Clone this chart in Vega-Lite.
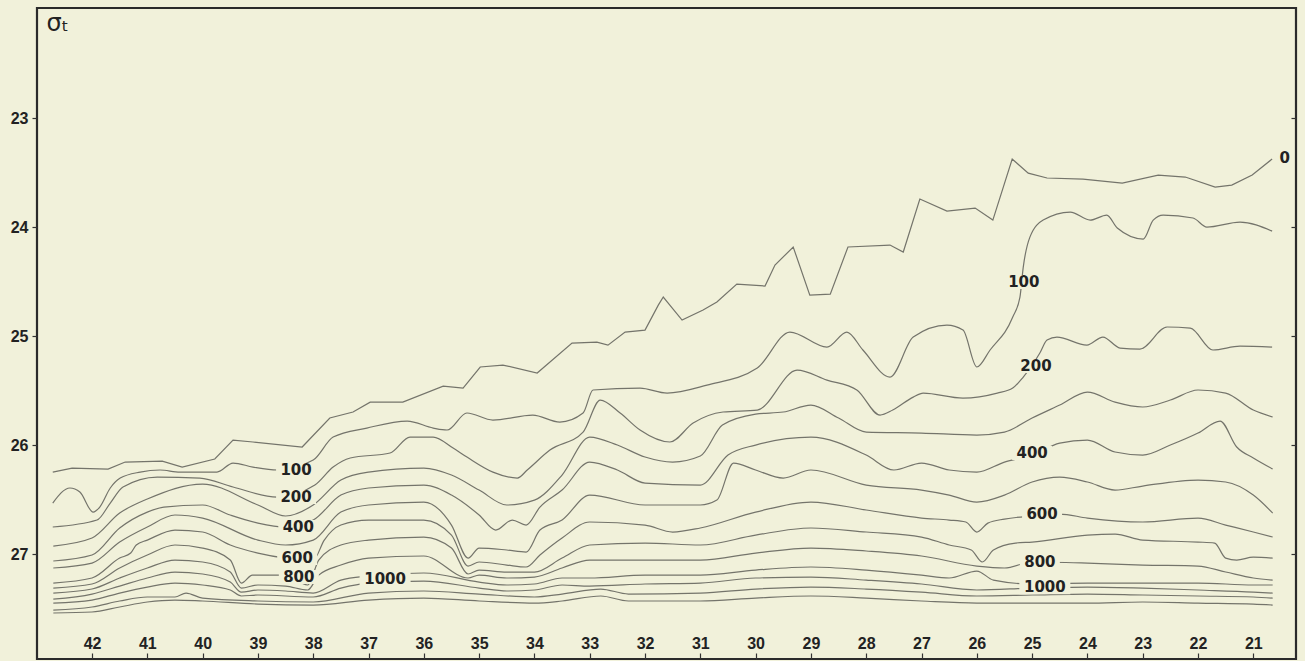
{
"$schema":"https://vega.github.io/schema/vega-lite/v6.json",
"width":1259,"height":651,"autosize":"none",
"padding":{"left":37,"top":8,"right":9,"bottom":2},
"background":"#f1f1da",
"config":{"view":{"stroke":"#2b2b2b","strokeWidth":2.2,"fill":"#f1f1da"},"axis":{"grid":false,"domain":false}},
"datasets":{
"lines":[
{"d":0,"s":42.71,"v":26.248},{"d":0,"s":42.36,"v":26.211},{"d":0,"s":41.71,"v":26.220},{"d":0,"s":41.40,"v":26.156},{"d":0,"s":40.73,"v":26.147},{"d":0,"s":40.37,"v":26.202},{"d":0,"s":39.78,"v":26.128},{"d":0,"s":39.45,"v":25.954},{"d":0,"s":39.09,"v":25.972},{"d":0,"s":38.20,"v":26.018},{"d":0,"s":37.70,"v":25.752},{"d":0,"s":37.28,"v":25.697},{"d":0,"s":36.97,"v":25.606},{"d":0,"s":36.38,"v":25.606},{"d":0,"s":35.65,"v":25.459},{"d":0,"s":35.29,"v":25.477},{"d":0,"s":34.98,"v":25.284},{"d":0,"s":34.57,"v":25.266},{"d":0,"s":33.95,"v":25.339},{"d":0,"s":33.32,"v":25.064},{"d":0,"s":32.87,"v":25.055},{"d":0,"s":32.67,"v":25.083},{"d":0,"s":32.36,"v":24.963},{"d":0,"s":32.00,"v":24.945},{"d":0,"s":31.76,"v":24.716},{"d":0,"s":31.67,"v":24.642},{"d":0,"s":31.33,"v":24.853},{"d":0,"s":30.95,"v":24.761},{"d":0,"s":30.70,"v":24.688},{"d":0,"s":30.34,"v":24.523},{"d":0,"s":29.83,"v":24.541},{"d":0,"s":29.65,"v":24.349},{"d":0,"s":29.32,"v":24.183},{"d":0,"s":29.02,"v":24.624},{"d":0,"s":28.65,"v":24.615},{"d":0,"s":28.33,"v":24.183},{"d":0,"s":27.57,"v":24.165},{"d":0,"s":27.33,"v":24.229},{"d":0,"s":27.03,"v":23.743},{"d":0,"s":26.54,"v":23.853},{"d":0,"s":26.03,"v":23.826},{"d":0,"s":25.71,"v":23.936},{"d":0,"s":25.36,"v":23.376},{"d":0,"s":25.07,"v":23.505},{"d":0,"s":24.73,"v":23.550},{"d":0,"s":24.08,"v":23.560},{"d":0,"s":23.37,"v":23.596},{"d":0,"s":22.72,"v":23.523},{"d":0,"s":22.23,"v":23.541},{"d":0,"s":21.69,"v":23.633},{"d":0,"s":21.39,"v":23.615},{"d":0,"s":21.02,"v":23.523},{"d":0,"s":20.66,"v":23.376},

{"d":100,"s":42.71,"v":26.532},{"d":100,"s":42.40,"v":26.394},{"d":100,"s":42.22,"v":26.431},{"d":100,"s":41.98,"v":26.615},{"d":100,"s":41.86,"v":26.569},{"d":100,"s":41.67,"v":26.394},{"d":100,"s":41.49,"v":26.303},{"d":100,"s":41.13,"v":26.248},{"d":100,"s":40.77,"v":26.229},{"d":100,"s":40.41,"v":26.248},{"d":100,"s":39.74,"v":26.248},{"d":100,"s":39.45,"v":26.165},{"d":100,"s":39.09,"v":26.202},{"d":100,"s":38.65,"v":26.229},{"d":100,"s":38.00,"v":26.138},{"d":100,"s":37.64,"v":25.927},{"d":100,"s":37.03,"v":25.844},{"d":100,"s":36.30,"v":25.780},{"d":100,"s":35.83,"v":25.844},{"d":100,"s":35.58,"v":25.862},{"d":100,"s":35.22,"v":25.706},{"d":100,"s":34.75,"v":25.771},{"d":100,"s":34.03,"v":25.725},{"d":100,"s":33.54,"v":25.789},{"d":100,"s":33.12,"v":25.706},{"d":100,"s":32.94,"v":25.495},{"d":100,"s":32.09,"v":25.477},{"d":100,"s":31.60,"v":25.523},{"d":100,"s":30.88,"v":25.450},{"d":100,"s":29.97,"v":25.294},{"d":100,"s":29.38,"v":24.963},{"d":100,"s":28.71,"v":25.101},{"d":100,"s":28.35,"v":24.963},{"d":100,"s":28.06,"v":25.128},{"d":100,"s":27.57,"v":25.376},{"d":100,"s":27.15,"v":25.009},{"d":100,"s":26.54,"v":24.899},{"d":100,"s":26.25,"v":24.945},{"d":100,"s":26.00,"v":25.284},{"d":100,"s":25.76,"v":25.128},{"d":100,"s":25.35,"v":24.826},{"d":100,"s":25.22,"v":24.642},{"d":100,"s":25.16,"v":24.367},{"d":100,"s":25.04,"v":24.092},{"d":100,"s":24.80,"v":23.936},{"d":100,"s":24.31,"v":23.862},{"d":100,"s":23.95,"v":23.936},{"d":100,"s":23.65,"v":23.890},{"d":100,"s":23.46,"v":24.009},{"d":100,"s":22.99,"v":24.110},{"d":100,"s":22.81,"v":23.936},{"d":100,"s":22.63,"v":23.890},{"d":100,"s":22.09,"v":23.917},{"d":100,"s":21.84,"v":24.000},{"d":100,"s":21.24,"v":23.954},{"d":100,"s":20.66,"v":24.037},

{"d":200,"s":42.71,"v":26.752},{"d":200,"s":41.91,"v":26.688},{"d":200,"s":41.67,"v":26.532},{"d":200,"s":41.44,"v":26.385},{"d":200,"s":40.82,"v":26.294},{"d":200,"s":40.05,"v":26.303},{"d":200,"s":39.45,"v":26.385},{"d":200,"s":38.65,"v":26.477},{"d":200,"s":37.97,"v":26.367},{"d":200,"s":37.64,"v":26.202},{"d":200,"s":37.33,"v":26.119},{"d":200,"s":36.61,"v":26.073},{"d":200,"s":36.25,"v":25.927},{"d":200,"s":35.83,"v":25.927},{"d":200,"s":35.47,"v":26.028},{"d":200,"s":35.22,"v":26.110},{"d":200,"s":34.75,"v":26.248},{"d":200,"s":34.31,"v":26.303},{"d":200,"s":34.13,"v":26.229},{"d":200,"s":33.72,"v":26.046},{"d":200,"s":33.12,"v":25.881},{"d":200,"s":32.81,"v":25.587},{"d":200,"s":32.45,"v":25.706},{"d":200,"s":32.09,"v":25.862},{"d":200,"s":31.55,"v":25.972},{"d":200,"s":31.13,"v":25.798},{"d":200,"s":30.59,"v":25.697},{"d":200,"s":29.97,"v":25.679},{"d":200,"s":29.25,"v":25.312},{"d":200,"s":28.71,"v":25.404},{"d":200,"s":28.17,"v":25.495},{"d":200,"s":27.75,"v":25.725},{"d":200,"s":27.52,"v":25.679},{"d":200,"s":27.15,"v":25.560},{"d":200,"s":26.97,"v":25.523},{"d":200,"s":26.25,"v":25.569},{"d":200,"s":25.63,"v":25.523},{"d":200,"s":25.35,"v":25.477},{"d":200,"s":25.16,"v":25.376},{"d":200,"s":24.86,"v":25.156},{"d":200,"s":24.73,"v":25.037},{"d":200,"s":24.55,"v":25.009},{"d":200,"s":24.01,"v":25.083},{"d":200,"s":23.72,"v":25.009},{"d":200,"s":23.41,"v":25.110},{"d":200,"s":23.05,"v":25.119},{"d":200,"s":22.56,"v":24.917},{"d":200,"s":22.14,"v":24.927},{"d":200,"s":21.73,"v":25.128},{"d":200,"s":21.24,"v":25.092},{"d":200,"s":20.66,"v":25.101},

{"d":300,"s":42.7,"v":26.927},{"d":300,"s":42,"v":26.853},{"d":300,"s":41.5,"v":26.624},{"d":300,"s":41,"v":26.495},{"d":300,"s":40,"v":26.358},{"d":300,"s":39,"v":26.550},{"d":300,"s":38.5,"v":26.651},{"d":300,"s":38,"v":26.550},{"d":300,"s":37.5,"v":26.321},{"d":300,"s":37,"v":26.248},{"d":300,"s":36,"v":26.211},{"d":300,"s":35.5,"v":26.275},{"d":300,"s":35,"v":26.413},{"d":300,"s":34.5,"v":26.550},{"d":300,"s":34,"v":26.505},{"d":300,"s":33.5,"v":26.275},{"d":300,"s":33,"v":25.927},{"d":300,"s":32.5,"v":26.000},{"d":300,"s":32,"v":26.110},{"d":300,"s":31.5,"v":26.156},{"d":300,"s":31,"v":26.101},{"d":300,"s":30.6,"v":25.817},{"d":300,"s":30,"v":25.716},{"d":300,"s":29.5,"v":25.697},{"d":300,"s":29,"v":25.633},{"d":300,"s":28.5,"v":25.752},{"d":300,"s":28,"v":25.881},{"d":300,"s":27,"v":25.890},{"d":300,"s":26,"v":25.908},{"d":300,"s":25.5,"v":25.881},{"d":300,"s":25,"v":25.752},{"d":300,"s":24.5,"v":25.633},{"d":300,"s":24,"v":25.514},{"d":300,"s":23.5,"v":25.606},{"d":300,"s":23,"v":25.651},{"d":300,"s":22.5,"v":25.587},{"d":300,"s":22,"v":25.495},{"d":300,"s":21.5,"v":25.523},{"d":300,"s":21,"v":25.679},{"d":300,"s":20.65,"v":25.743},

{"d":400,"s":42.7,"v":27.064},{"d":400,"s":42,"v":27.009},{"d":400,"s":41.5,"v":26.761},{"d":400,"s":41,"v":26.615},{"d":400,"s":40.7,"v":26.569},{"d":400,"s":40,"v":26.550},{"d":400,"s":39.5,"v":26.642},{"d":400,"s":39,"v":26.716},{"d":400,"s":38.5,"v":26.752},{"d":400,"s":38,"v":26.688},{"d":400,"s":37.5,"v":26.459},{"d":400,"s":37,"v":26.394},{"d":400,"s":36,"v":26.367},{"d":400,"s":35.5,"v":26.459},{"d":400,"s":35,"v":26.642},{"d":400,"s":34.7,"v":26.780},{"d":400,"s":34.4,"v":26.688},{"d":400,"s":34.15,"v":26.734},{"d":400,"s":33.9,"v":26.569},{"d":400,"s":33.5,"v":26.413},{"d":400,"s":33,"v":26.156},{"d":400,"s":32.5,"v":26.229},{"d":400,"s":32,"v":26.349},{"d":400,"s":31,"v":26.367},{"d":400,"s":30.5,"v":26.092},{"d":400,"s":30,"v":26.000},{"d":400,"s":29,"v":25.927},{"d":400,"s":28,"v":26.092},{"d":400,"s":27.5,"v":26.229},{"d":400,"s":27,"v":26.165},{"d":400,"s":26.5,"v":26.229},{"d":400,"s":26,"v":26.248},{"d":400,"s":25.5,"v":26.156},{"d":400,"s":25,"v":26.092},{"d":400,"s":24.5,"v":25.982},{"d":400,"s":24,"v":25.954},{"d":400,"s":23.5,"v":26.064},{"d":400,"s":23,"v":26.092},{"d":400,"s":22.5,"v":26.000},{"d":400,"s":22,"v":25.890},{"d":400,"s":21.6,"v":25.780},{"d":400,"s":21.3,"v":26.018},{"d":400,"s":21,"v":26.119},{"d":400,"s":20.65,"v":26.220},

{"d":500,"s":42.7,"v":27.128},{"d":500,"s":42,"v":27.083},{"d":500,"s":41.5,"v":26.890},{"d":500,"s":41,"v":26.752},{"d":500,"s":40.5,"v":26.642},{"d":500,"s":40,"v":26.670},{"d":500,"s":39,"v":26.872},{"d":500,"s":38.5,"v":26.917},{"d":500,"s":38,"v":26.872},{"d":500,"s":37.5,"v":26.615},{"d":500,"s":37,"v":26.550},{"d":500,"s":36,"v":26.523},{"d":500,"s":35.5,"v":26.734},{"d":500,"s":35.2,"v":27.037},{"d":500,"s":35,"v":26.945},{"d":500,"s":34.5,"v":26.963},{"d":500,"s":34.15,"v":26.982},{"d":500,"s":33.9,"v":26.780},{"d":500,"s":33.5,"v":26.688},{"d":500,"s":33,"v":26.459},{"d":500,"s":32,"v":26.550},{"d":500,"s":31,"v":26.550},{"d":500,"s":30.7,"v":26.505},{"d":500,"s":30.4,"v":26.165},{"d":500,"s":30,"v":26.229},{"d":500,"s":29.5,"v":26.303},{"d":500,"s":29,"v":26.229},{"d":500,"s":28,"v":26.367},{"d":500,"s":27,"v":26.413},{"d":500,"s":26.5,"v":26.459},{"d":500,"s":26,"v":26.523},{"d":500,"s":25.5,"v":26.459},{"d":500,"s":25,"v":26.339},{"d":500,"s":24.5,"v":26.294},{"d":500,"s":24,"v":26.339},{"d":500,"s":23.5,"v":26.413},{"d":500,"s":23,"v":26.376},{"d":500,"s":22,"v":26.321},{"d":500,"s":21.5,"v":26.339},{"d":500,"s":21,"v":26.459},{"d":500,"s":20.65,"v":26.624},

{"d":600,"s":42.7,"v":27.266},{"d":600,"s":42,"v":27.220},{"d":600,"s":41.5,"v":27.037},{"d":600,"s":41.3,"v":26.991},{"d":600,"s":41.2,"v":26.917},{"d":600,"s":41,"v":26.872},{"d":600,"s":40.5,"v":26.780},{"d":600,"s":40,"v":26.798},{"d":600,"s":39.5,"v":26.917},{"d":600,"s":39,"v":26.991},{"d":600,"s":38.5,"v":27.037},{"d":600,"s":38,"v":27.055},{"d":600,"s":37.8,"v":26.872},{"d":600,"s":37.5,"v":26.734},{"d":600,"s":37,"v":26.688},{"d":600,"s":36,"v":26.688},{"d":600,"s":35.5,"v":26.826},{"d":600,"s":35.2,"v":27.110},{"d":600,"s":35,"v":27.073},{"d":600,"s":34.5,"v":27.101},{"d":600,"s":34.15,"v":27.119},{"d":600,"s":33.9,"v":27.009},{"d":600,"s":33.5,"v":26.853},{"d":600,"s":33,"v":26.706},{"d":600,"s":32,"v":26.734},{"d":600,"s":31.5,"v":26.798},{"d":600,"s":31,"v":26.761},{"d":600,"s":30,"v":26.615},{"d":600,"s":29,"v":26.523},{"d":600,"s":28,"v":26.596},{"d":600,"s":27,"v":26.670},{"d":600,"s":26.5,"v":26.688},{"d":600,"s":26.2,"v":26.706},{"d":600,"s":26,"v":26.798},{"d":600,"s":25.8,"v":26.716},{"d":600,"s":25.5,"v":26.679},{"d":600,"s":25,"v":26.651},{"d":600,"s":24.5,"v":26.633},{"d":600,"s":24,"v":26.670},{"d":600,"s":23,"v":26.706},{"d":600,"s":22,"v":26.670},{"d":600,"s":21.5,"v":26.734},{"d":600,"s":21,"v":26.798},{"d":600,"s":20.65,"v":26.844},

{"d":700,"s":42.7,"v":27.312},{"d":700,"s":42,"v":27.275},{"d":700,"s":41.5,"v":27.128},{"d":700,"s":41,"v":27.009},{"d":700,"s":40.5,"v":26.917},{"d":700,"s":40,"v":26.945},{"d":700,"s":39.5,"v":27.055},{"d":700,"s":39.3,"v":27.266},{"d":700,"s":39.1,"v":27.193},{"d":700,"s":38.5,"v":27.193},{"d":700,"s":38.1,"v":27.284},{"d":700,"s":37.9,"v":27.055},{"d":700,"s":37.5,"v":26.917},{"d":700,"s":37,"v":26.872},{"d":700,"s":36,"v":26.844},{"d":700,"s":35.5,"v":26.945},{"d":700,"s":35.2,"v":27.183},{"d":700,"s":35,"v":27.147},{"d":700,"s":34.5,"v":27.165},{"d":700,"s":34,"v":27.165},{"d":700,"s":33.5,"v":27.037},{"d":700,"s":33,"v":26.917},{"d":700,"s":32,"v":26.899},{"d":700,"s":31,"v":26.917},{"d":700,"s":30,"v":26.826},{"d":700,"s":29,"v":26.761},{"d":700,"s":28,"v":26.798},{"d":700,"s":27,"v":26.844},{"d":700,"s":26.5,"v":26.917},{"d":700,"s":26.1,"v":26.963},{"d":700,"s":25.9,"v":27.073},{"d":700,"s":25.7,"v":26.963},{"d":700,"s":25.3,"v":26.899},{"d":700,"s":25,"v":26.890},{"d":700,"s":24,"v":26.826},{"d":700,"s":23.5,"v":26.817},{"d":700,"s":23,"v":26.872},{"d":700,"s":22,"v":26.890},{"d":700,"s":21.7,"v":26.899},{"d":700,"s":21.5,"v":27.037},{"d":700,"s":21.3,"v":27.055},{"d":700,"s":21,"v":27.028},{"d":700,"s":20.65,"v":27.037},

{"d":800,"s":42.7,"v":27.358},{"d":800,"s":42,"v":27.321},{"d":800,"s":41.5,"v":27.220},{"d":800,"s":41,"v":27.128},{"d":800,"s":40.5,"v":27.055},{"d":800,"s":40,"v":27.073},{"d":800,"s":39.5,"v":27.165},{"d":800,"s":39.3,"v":27.312},{"d":800,"s":39,"v":27.284},{"d":800,"s":38.5,"v":27.294},{"d":800,"s":38.1,"v":27.330},{"d":800,"s":37.9,"v":27.193},{"d":800,"s":37.5,"v":27.101},{"d":800,"s":37,"v":27.037},{"d":800,"s":36,"v":27.018},{"d":800,"s":35.2,"v":27.220},{"d":800,"s":35,"v":27.193},{"d":800,"s":34.5,"v":27.220},{"d":800,"s":34,"v":27.211},{"d":800,"s":33.5,"v":27.128},{"d":800,"s":33,"v":27.055},{"d":800,"s":32,"v":27.055},{"d":800,"s":31,"v":27.055},{"d":800,"s":30,"v":26.991},{"d":800,"s":29,"v":26.945},{"d":800,"s":28,"v":26.972},{"d":800,"s":27,"v":27.018},{"d":800,"s":26,"v":27.110},{"d":800,"s":25.5,"v":27.128},{"d":800,"s":25,"v":27.073},{"d":800,"s":24,"v":27.083},{"d":800,"s":23,"v":27.101},{"d":800,"s":22,"v":27.110},{"d":800,"s":21.5,"v":27.165},{"d":800,"s":21,"v":27.220},{"d":800,"s":20.65,"v":27.239},

{"d":900,"s":42.7,"v":27.413},{"d":900,"s":42,"v":27.367},{"d":900,"s":41.5,"v":27.294},{"d":900,"s":41,"v":27.220},{"d":900,"s":40.5,"v":27.165},{"d":900,"s":40,"v":27.183},{"d":900,"s":39.5,"v":27.257},{"d":900,"s":39.3,"v":27.349},{"d":900,"s":39,"v":27.330},{"d":900,"s":38.5,"v":27.339},{"d":900,"s":38,"v":27.358},{"d":900,"s":37.5,"v":27.239},{"d":900,"s":37,"v":27.202},{"d":900,"s":36,"v":27.174},{"d":900,"s":35,"v":27.257},{"d":900,"s":34.5,"v":27.284},{"d":900,"s":34,"v":27.275},{"d":900,"s":33.5,"v":27.220},{"d":900,"s":33,"v":27.220},{"d":900,"s":32,"v":27.193},{"d":900,"s":31,"v":27.193},{"d":900,"s":30,"v":27.147},{"d":900,"s":29,"v":27.119},{"d":900,"s":28,"v":27.147},{"d":900,"s":27,"v":27.193},{"d":900,"s":26.5,"v":27.220},{"d":900,"s":26,"v":27.156},{"d":900,"s":25.7,"v":27.239},{"d":900,"s":25,"v":27.275},{"d":900,"s":24,"v":27.266},{"d":900,"s":23,"v":27.266},{"d":900,"s":22,"v":27.266},{"d":900,"s":21,"v":27.284},{"d":900,"s":20.65,"v":27.284},

{"d":1000,"s":42.7,"v":27.450},{"d":1000,"s":42,"v":27.422},{"d":1000,"s":41.5,"v":27.358},{"d":1000,"s":41,"v":27.303},{"d":1000,"s":40.5,"v":27.266},{"d":1000,"s":40,"v":27.284},{"d":1000,"s":39.5,"v":27.330},{"d":1000,"s":39.3,"v":27.385},{"d":1000,"s":39,"v":27.376},{"d":1000,"s":38,"v":27.394},{"d":1000,"s":37.5,"v":27.312},{"d":1000,"s":37,"v":27.266},{"d":1000,"s":36,"v":27.248},{"d":1000,"s":35,"v":27.312},{"d":1000,"s":34.5,"v":27.339},{"d":1000,"s":34,"v":27.330},{"d":1000,"s":33.5,"v":27.284},{"d":1000,"s":33,"v":27.294},{"d":1000,"s":32,"v":27.275},{"d":1000,"s":31,"v":27.266},{"d":1000,"s":30,"v":27.220},{"d":1000,"s":29,"v":27.211},{"d":1000,"s":28,"v":27.239},{"d":1000,"s":27,"v":27.275},{"d":1000,"s":26,"v":27.330},{"d":1000,"s":25,"v":27.312},{"d":1000,"s":24,"v":27.303},{"d":1000,"s":23,"v":27.312},{"d":1000,"s":22,"v":27.330},{"d":1000,"s":21,"v":27.349},{"d":1000,"s":20.65,"v":27.358},

{"d":1200,"s":42.7,"v":27.514},{"d":1200,"s":42,"v":27.486},{"d":1200,"s":41.5,"v":27.431},{"d":1200,"s":41,"v":27.394},{"d":1200,"s":40.5,"v":27.394},{"d":1200,"s":40.3,"v":27.358},{"d":1200,"s":40,"v":27.404},{"d":1200,"s":39,"v":27.431},{"d":1200,"s":38,"v":27.440},{"d":1200,"s":37,"v":27.358},{"d":1200,"s":36,"v":27.339},{"d":1200,"s":35,"v":27.367},{"d":1200,"s":34,"v":27.394},{"d":1200,"s":33.5,"v":27.367},{"d":1200,"s":32.8,"v":27.321},{"d":1200,"s":32.3,"v":27.367},{"d":1200,"s":31,"v":27.358},{"d":1200,"s":30,"v":27.321},{"d":1200,"s":29,"v":27.303},{"d":1200,"s":28,"v":27.321},{"d":1200,"s":27,"v":27.349},{"d":1200,"s":26,"v":27.385},{"d":1200,"s":25,"v":27.376},{"d":1200,"s":24,"v":27.367},{"d":1200,"s":23,"v":27.376},{"d":1200,"s":22,"v":27.385},{"d":1200,"s":21,"v":27.394},{"d":1200,"s":20.65,"v":27.404},

{"d":1500,"s":42.7,"v":27.541},{"d":1500,"s":42,"v":27.532},{"d":1500,"s":41.5,"v":27.486},{"d":1500,"s":41,"v":27.440},{"d":1500,"s":40.5,"v":27.422},{"d":1500,"s":40,"v":27.431},{"d":1500,"s":39,"v":27.459},{"d":1500,"s":38,"v":27.468},{"d":1500,"s":37,"v":27.422},{"d":1500,"s":36,"v":27.404},{"d":1500,"s":35,"v":27.431},{"d":1500,"s":34,"v":27.450},{"d":1500,"s":33.5,"v":27.431},{"d":1500,"s":32.8,"v":27.385},{"d":1500,"s":32.3,"v":27.431},{"d":1500,"s":31,"v":27.431},{"d":1500,"s":30,"v":27.404},{"d":1500,"s":29,"v":27.385},{"d":1500,"s":28,"v":27.404},{"d":1500,"s":27,"v":27.431},{"d":1500,"s":26,"v":27.450},{"d":1500,"s":25,"v":27.450},{"d":1500,"s":24,"v":27.450},{"d":1500,"s":23,"v":27.440},{"d":1500,"s":22,"v":27.450},{"d":1500,"s":21,"v":27.459},{"d":1500,"s":20.65,"v":27.468}
],
"labels":[
{"t":"0","s":20.43,"v":23.367},
{"t":"100","s":38.31,"v":26.229},{"t":"100","s":25.15,"v":24.505},
{"t":"200","s":38.31,"v":26.477},{"t":"200","s":24.93,"v":25.275},
{"t":"400","s":38.27,"v":26.752},{"t":"400","s":25.00,"v":26.073},
{"t":"600","s":38.29,"v":27.037},{"t":"600","s":24.82,"v":26.633},
{"t":"800","s":38.26,"v":27.211},{"t":"800","s":24.86,"v":27.073},
{"t":"1000","s":36.70,"v":27.229},{"t":"1000","s":24.77,"v":27.303}
]
},
"resolve":{"axis":{"y":"independent"}},
"layer":[
{"data":{"name":"lines"},"transform":[{"filter":"datum.d == 0"}],
 "mark":{"type":"line","interpolate":"linear","color":"#74746b","strokeWidth":1.2},
 "encoding":{
  "x":{"field":"s","type":"quantitative","scale":{"domain":[20.228,42.995],"reverse":true,"nice":false,"zero":false},
       "axis":{"values":[21,22,23,24,25,26,27,28,29,30,31,32,33,34,35,36,37,38,39,40,41,42],"tickSize":-6,"labelPadding":-18,"labelFont":"Liberation Sans","labelFontSize":16,"labelFontWeight":"bold","labelColor":"#222","tickColor":"#333","tickWidth":1.2,"title":null,"labelFlush":false,"labelOverlap":false}},
  "y":{"field":"v","type":"quantitative","scale":{"domain":[21.99,27.963],"reverse":true,"nice":false,"zero":false},
       "axis":{"values":[23,24,25,26,27],"tickSize":5,"labelPadding":4,"labelFont":"Liberation Sans","labelFontSize":16,"labelFontWeight":"bold","labelColor":"#222","tickColor":"#333","tickWidth":1.2,"title":"σₜ","titleAngle":0,"titleX":9,"titleY":22,"titleAlign":"left","titleBaseline":"alphabetic","titleFont":"DejaVu Sans","titleFontSize":24,"titleFontWeight":"normal","titleColor":"#222"}},
  "order":{"field":"s","sort":"descending"}}},
{"data":{"name":"lines"},"transform":[{"filter":"datum.d > 0"}],
 "mark":{"type":"line","interpolate":"monotone","color":"#74746b","strokeWidth":1.2},
 "encoding":{
  "x":{"field":"s","type":"quantitative","scale":{"domain":[20.228,42.995],"reverse":true,"nice":false,"zero":false}},
  "y":{"field":"v","type":"quantitative","scale":{"domain":[21.99,27.963],"reverse":true,"nice":false,"zero":false},"axis":null},
  "detail":{"field":"d","type":"nominal"},
  "order":{"field":"s","sort":"descending"}}},
{"data":{"name":"labels"},"transform":[{"filter":"length(datum.t) == 3"}],
 "mark":{"type":"point","shape":"M-1,-0.35H1V0.35H-1Z","filled":true,"color":"#f1f1da","opacity":1,"size":1600,"strokeWidth":0},
 "encoding":{
  "x":{"field":"s","type":"quantitative","scale":{"domain":[20.228,42.995],"reverse":true,"nice":false,"zero":false}},
  "y":{"field":"v","type":"quantitative","scale":{"domain":[21.99,27.963],"reverse":true,"nice":false,"zero":false},"axis":null}}},
{"data":{"name":"labels"},"transform":[{"filter":"length(datum.t) == 4"}],
 "mark":{"type":"point","shape":"M-1,-0.28H1V0.28H-1Z","filled":true,"color":"#f1f1da","opacity":1,"size":2601,"strokeWidth":0},
 "encoding":{
  "x":{"field":"s","type":"quantitative","scale":{"domain":[20.228,42.995],"reverse":true,"nice":false,"zero":false}},
  "y":{"field":"v","type":"quantitative","scale":{"domain":[21.99,27.963],"reverse":true,"nice":false,"zero":false},"axis":null}}},
{"data":{"name":"labels"},
 "mark":{"type":"text","font":"DejaVu Sans","fontSize":15,"fontWeight":"bold","color":"#222","align":"center","baseline":"middle"},
 "encoding":{
  "x":{"field":"s","type":"quantitative","scale":{"domain":[20.228,42.995],"reverse":true,"nice":false,"zero":false}},
  "y":{"field":"v","type":"quantitative","scale":{"domain":[21.99,27.963],"reverse":true,"nice":false,"zero":false},
       "axis":{"orient":"right","values":[23,24,25,26,27],"tickSize":-5,"labels":false,"title":null,"tickColor":"#333","tickWidth":1.2}},
  "text":{"field":"t","type":"nominal"}}}
]
}
